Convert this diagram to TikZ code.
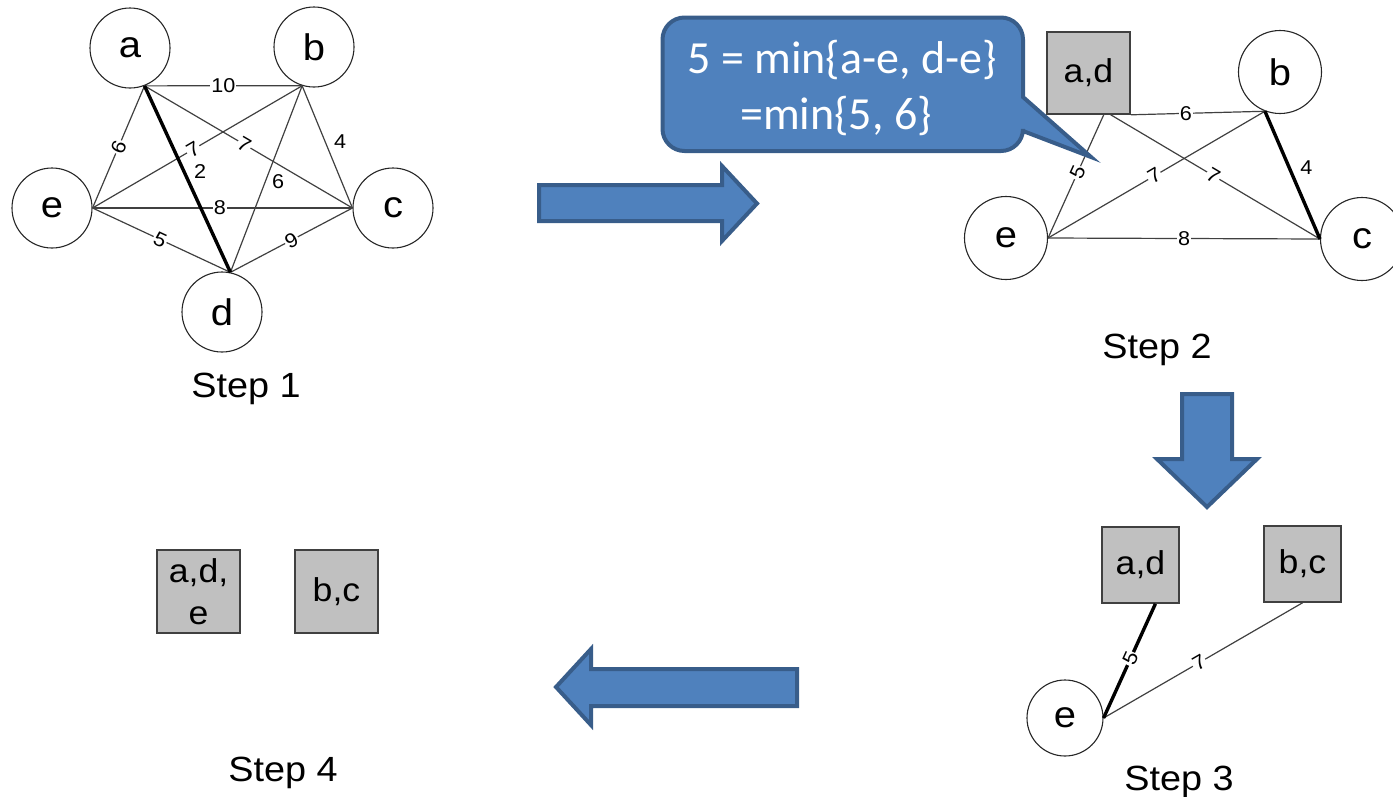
\documentclass[tikz,border=0pt]{standalone}
\usepackage{fontspec}
\setmainfont{Liberation Sans}[FakeStretch=1.08]
\newfontfamily\calloutfont{Carlito}
\usetikzlibrary{calc}

\definecolor{officeblue}{HTML}{4F81BD}
\definecolor{officeedge}{HTML}{385D8A}
\definecolor{boxgray}{HTML}{C0C0C0}

\tikzset{
  vertex/.style={circle, draw=black!85, line width=1.1pt, minimum size=80pt,
    inner sep=0pt, font=\fontsize{37}{40}\selectfont},
  cluster/.style={rectangle, draw=black!75, line width=1.6pt, fill=boxgray,
    minimum width=83pt, minimum height=82pt, inner sep=0pt,
    font=\fontsize{33}{42}\selectfont},
  edge/.style={draw=black!75, line width=1.2pt},
  heavy/.style={draw=black, line width=3.4pt},
  weight/.style={fill=white, inner sep=1pt, font=\fontsize{20}{22}\selectfont},
  offweight/.style={inner sep=1pt, font=\fontsize{20}{22}\selectfont},
  steplabel/.style={anchor=base, font=\fontsize{35}{40}\selectfont},
  blockarrow/.style={fill=officeblue, draw=officeedge, line width=4pt,
    line join=miter},
}

\begin{document}
\begin{tikzpicture}[x=1pt, y=-1pt]
\useasboundingbox (0,0) rectangle (1393,796);
\clip (0,0) rectangle (1393,796);

% ---------- Step 1: the full graph ----------
\node[vertex] (a1) at (130,48) {a};
\node[vertex] (b1) at (314,47) {b};
\node[vertex] (e1) at (52,208) {e};
\node[vertex] (c1) at (393,208) {c};
\node[vertex] (d1) at (222,312) {d};

\draw[edge] (a1.-69) -- node[weight] {10} (b1.-107);
\draw[edge] (a1.-69) -- node[weight, sloped] {6} (e1.east);
\draw[edge] (a1.-69) -- node[weight, sloped, pos=.48] {7} (c1.west);
\draw[edge] (b1.-107) -- node[weight, sloped, pos=.52] {7} (e1.east);
\draw[edge] (b1.-107) -- node[offweight, pos=.455, xshift=15pt] {4} (c1.west);
\draw[edge] (b1.-107) -- node[offweight, pos=.516, xshift=13pt] {6} (d1.78);
\draw[edge] (e1.east) -- node[weight, pos=.49] {8} (c1.west);
\draw[edge] (e1.east) -- node[weight, sloped, pos=.49] {5} (d1.78);
\draw[edge] (c1.west) -- node[weight, sloped] {9} (d1.78);
\draw[heavy] (a1.-69) -- node[offweight, pos=.46, xshift=16pt] {2} (d1.78);

\node[steplabel] (s1) at (246,397) {Step 1};

% ---------- Step 2: a and d merged ----------
\node[cluster] (ad2) at (1088.5,73) {a,d};
\node[vertex, minimum size=83pt] (b2) at (1280,72) {b};
\node[vertex, minimum size=83pt] (e2) at (1006,238) {e};
\node[vertex, minimum size=83pt] (c2) at (1362,239) {c};

\draw[edge] (ad2.south east) -- node[weight, pos=.41] {6} (b2.-111);
\draw[edge] (ad2.-70.5) -- node[weight, sloped, pos=.47] {5} (e2.east);
\draw[edge] (ad2.-62) -- node[weight, sloped, pos=.49] {7} (c2.west);
\draw[edge] (b2.-111) -- node[weight, sloped, pos=.51] {7} (e2.east);
\draw[edge] (e2.east) -- node[weight, pos=.5] {8} (c2.west);
\draw[heavy] (b2.-111) -- node[offweight, pos=.444, xshift=17pt] {4} (c2.west);

\node[steplabel] (s2) at (1157,358) {Step 2};

% ---------- Step 3: b and c merged ----------
\node[cluster, minimum width=77pt, minimum height=76pt] (ad3) at (1140.5,565) {a,d};
\node[cluster, minimum width=77pt, minimum height=76pt] (bc3) at (1302.5,564) {b,c};
\node[vertex, minimum size=76pt] (e3) at (1065,718) {e};

\draw[edge] (e3.east) -- node[weight, sloped, pos=.48] {7} (bc3.south);
\draw[heavy] (e3.east) -- node[weight, sloped, pos=.52] {5} (ad3.-69);

\node[steplabel] (s3) at (1179,790) {Step 3};

% ---------- Step 4: two clusters remain ----------
\node[cluster, minimum height=83pt, align=center] (ade4) at (198.5,591.5) {a,d,\\e};
\node[cluster, minimum height=83pt] (bc4) at (336.5,591.5) {b,c};

\node[steplabel] (s4) at (283,781) {Step 4};

% ---------- block arrows between the steps ----------
\draw[blockarrow] (539,185) -- (722,185) -- (722,166) -- (757,203.5)
  -- (722,241) -- (722,221) -- (539,221) -- cycle;
\draw[blockarrow] (1182,394) -- (1232,394) -- (1232,459) -- (1257,459)
  -- (1207,507) -- (1157,459) -- (1182,459) -- cycle;
\draw[blockarrow] (797,669) -- (591,669) -- (591,649) -- (556,687)
  -- (591,725) -- (591,706) -- (797,706) -- cycle;

% ---------- callout explaining the merged weight ----------
\draw[blockarrow] (1023,97) [rounded corners=22pt] -- (1023,17.5) -- (662.5,17.5)
  -- (662.5,151) -- (1023,151) [sharp corners] -- (1023,131) -- (1091,157) -- cycle;
\node[font=\calloutfont\fontsize{46}{56}\selectfont, text=white, align=center]
  (note) at (842,88) {5 = min\{a-e, d-e\}\\\hspace*{-12pt}=min\{5, 6\}};

\end{tikzpicture}
\end{document}
